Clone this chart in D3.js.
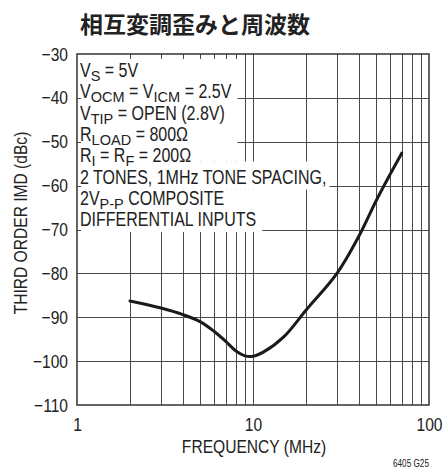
<!DOCTYPE html>
<html>
<head>
<meta charset="utf-8">
<script src="https://cdn.jsdelivr.net/npm/d3@7"></script>
<style>
  html, body { margin: 0; padding: 0; background: #fff; }
  svg { display: block; }
  .cond { font-family: "Liberation Sans", Arial, sans-serif; fill: #222; }
</style>
</head>
<body>
<svg id="chart" width="446" height="469"></svg>
<script>
// Third-order IMD vs. frequency
const freqMHz = [2, 3, 4, 5, 6, 7, 8, 9, 10, 11.5, 15, 20, 30, 40, 50, 60, 70];
const imdDbc  = [-86.3, -87.9, -89.4, -91.0, -93.2, -95.5, -97.7, -98.8, -98.9, -97.9, -94.4, -88.4, -80.0, -71.5, -63.5, -57.5, -52.6];

const yTicks = [-30, -40, -50, -60, -70, -80, -90, -100, -110];
const xTickLabels = [1, 10, 100];
const xGridValues = [2, 3, 4, 5, 6, 7, 8, 9, 10, 20, 30, 40, 50, 60, 70, 80, 90];

const titleText = "相互変調歪みと周波数";
const xTitle = "FREQUENCY (MHz)";
const yTitle = "THIRD ORDER IMD (dBc)";
const figId = "6405 G25";

// Condition lines: each is a list of [text, isSubscript] pieces
const conditions = [
  [["V", 0], ["S", 1], [" = 5V", 0]],
  [["V", 0], ["OCM", 1], [" = V", 0], ["ICM", 1], [" = 2.5V", 0]],
  [["V", 0], ["TIP", 1], [" = OPEN (2.8V)", 0]],
  [["R", 0], ["LOAD", 1], [" = 800Ω", 0]],
  [["R", 0], ["I", 1], [" = R", 0], ["F", 1], [" = 200Ω", 0]],
  [["2 TONES, 1MHz TONE SPACING,", 0]],
  [["2V", 0], ["P-P", 1], [" COMPOSITE", 0]],
  [["DIFFERENTIAL INPUTS", 0]]
];

const svg = d3.select("#chart");
const pL = 77, pR = 429, pT = 54, pB = 405;
const FS = 19;          // axis text size
const BOX_FS = 19.5;    // condition text size
const SUB_FS = 15;      // subscript size
const NARROW = 0.82;    // horizontal condensing of the sans face
const SUB_NARROW = 0.97;

const x = d3.scaleLog().domain([1, 100]).range([pL, pR]);
const y = d3.scaleLinear().domain([-110, -30]).range([pB, pT]);

// squeeze text horizontally to get a condensed face
function condense(sel, k = NARROW) {
  sel.each(function () {
    const L = this.getComputedTextLength();
    this.setAttribute("textLength", (L * k).toFixed(2));
    this.setAttribute("lengthAdjust", "spacingAndGlyphs");
  });
  return sel;
}

// Title
svg.append("text")
  .attr("x", 195).attr("y", 33)
  .attr("text-anchor", "middle")
  .style("font-family", "'Noto Sans CJK JP', sans-serif")
  .style("font-weight", "bold")
  .style("font-size", "23px")
  .style("fill", "#222")
  .text(titleText);

// Grid
const grid = svg.append("g").attr("stroke", "#4a4a4a").attr("stroke-width", 1);
grid.selectAll("line.v").data(xGridValues).join("line").attr("class", "v")
  .attr("x1", d => Math.round(x(d)) + 0.5).attr("x2", d => Math.round(x(d)) + 0.5)
  .attr("y1", pT).attr("y2", pB);
grid.selectAll("line.h").data(yTicks.filter(d => d !== -30 && d !== -110)).join("line").attr("class", "h")
  .attr("x1", pL).attr("x2", pR)
  .attr("y1", d => Math.round(y(d)) + 0.5).attr("y2", d => Math.round(y(d)) + 0.5);

// Condition text block on a white ground that hides the grid behind it
const maskG = svg.append("g");
const textG = svg.append("g");
const lineGap = 21.3, firstBase = 77;
const rowRight = conditions.map((pieces, i) => {
  const base = firstBase + i * lineGap;
  let cx = 80;
  pieces.forEach(([s, sub]) => {
    const t = textG.append("text").attr("class", "cond")
      .attr("x", cx).attr("y", base + (sub ? 4 : 0))
      .attr("xml:space", "preserve")
      .style("white-space", "pre")
      .style("font-size", (sub ? SUB_FS : BOX_FS) + "px")
      .text(s);
    const k = sub ? SUB_NARROW : NARROW;
    const w = t.node().getComputedTextLength() * k;
    condense(t, k);
    cx += w;
  });
  return cx;
});
const inkL = pL + 4, inkT = pT + 5;
const base5 = firstBase + 5 * lineGap;
const r5Top = base5 - 22, r5Bot = base5 + 6;
// rows 0-4: ground reaching just past the 8 MHz line
maskG.append("rect").attr("x", inkL).attr("y", inkT)
  .attr("width", x(8) + 1.5 - inkL).attr("height", r5Top - inkT).attr("fill", "#fff");
// row 5
maskG.append("rect").attr("x", inkL).attr("y", r5Top)
  .attr("width", rowRight[5] + 3 - inkL).attr("height", r5Bot - r5Top).attr("fill", "#fff");
// rows 6-7
const r7Bot = firstBase + 7 * lineGap + 6;
const r67Right = Math.max(rowRight[6], rowRight[7]) + 6;
maskG.append("rect").attr("x", inkL).attr("y", r5Bot)
  .attr("width", r67Right - inkL).attr("height", r7Bot - r5Bot).attr("fill", "#fff");

// Frame
svg.append("rect").attr("x", pL).attr("y", pT)
  .attr("width", pR - pL).attr("height", pB - pT)
  .attr("fill", "none").attr("stroke", "#333").attr("stroke-width", 1.5);

// Curve
const line = d3.line().x((d, i) => x(freqMHz[i])).y(d => y(d)).curve(d3.curveCatmullRom.alpha(0.5));
svg.append("path").datum(imdDbc)
  .attr("d", line).attr("fill", "none")
  .attr("stroke", "#1a1a1a").attr("stroke-width", 3).attr("stroke-linecap", "round");

// Axis labels
const yAxis = d3.axisLeft(y).tickValues(yTicks).tickSize(0).tickPadding(9)
  .tickFormat(d => String(d).replace("-", "−"));
const ya = svg.append("g").attr("transform", `translate(${pL},0)`).call(yAxis);
ya.select(".domain").remove();
ya.attr("font-family", null).attr("font-size", null);
condense(ya.selectAll("text").attr("class", "cond").style("font-size", FS + "px").attr("fill", "#222"));

const xAxis = d3.axisBottom(x).tickValues(xTickLabels).tickSize(0).tickPadding(0)
  .tickFormat(d3.format("d"));
const xa = svg.append("g").attr("transform", `translate(0,${pB})`).call(xAxis);
xa.select(".domain").remove();
xa.attr("font-family", null).attr("font-size", null);
condense(xa.selectAll("text").attr("class", "cond").attr("dy", null).attr("y", 26)
  .style("font-size", FS + "px").attr("fill", "#222"));

condense(svg.append("text").attr("class", "cond")
  .attr("x", 254).attr("y", 453).attr("text-anchor", "middle")
  .style("font-size", FS + "px").text(xTitle));

condense(svg.append("text").attr("class", "cond")
  .attr("transform", "translate(27,223) rotate(-90)")
  .attr("text-anchor", "middle")
  .style("font-size", FS + "px").text(yTitle));

condense(svg.append("text").attr("class", "cond")
  .attr("x", 429).attr("y", 467).attr("text-anchor", "end")
  .style("font-size", "10px").text(figId));
</script>
</body>
</html>
